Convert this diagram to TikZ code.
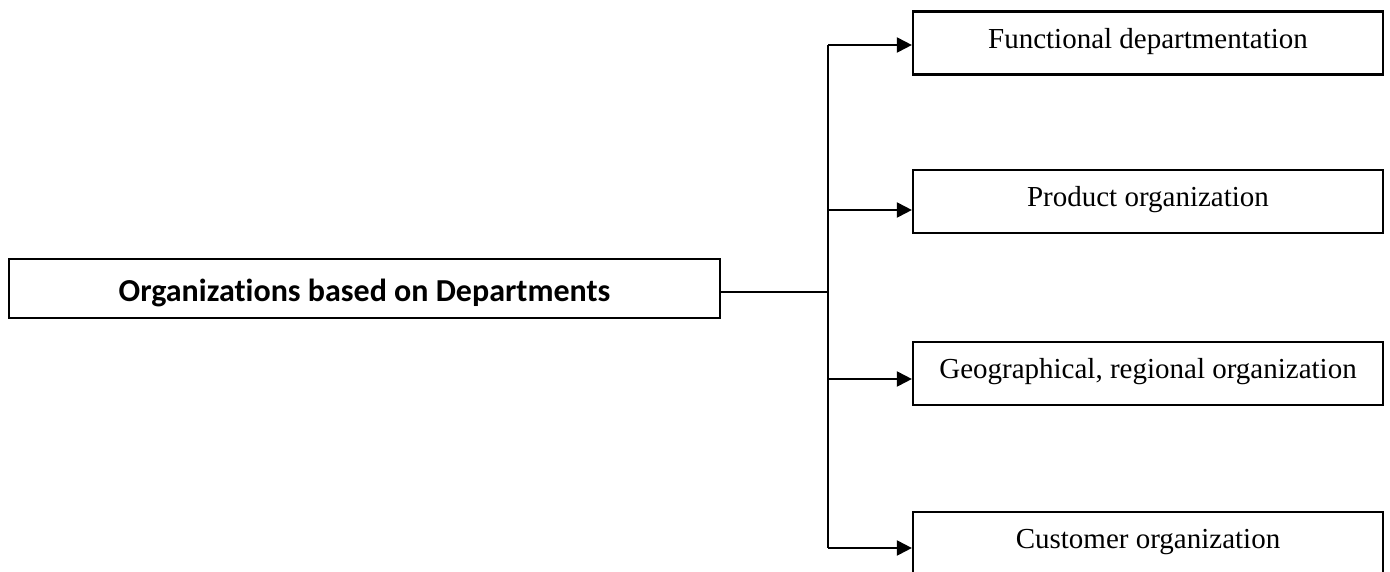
\documentclass[tikz,border=0pt]{standalone}
\usepackage{fontspec}
\setmainfont{Liberation Serif}
\newfontfamily\calibrifont[Ligatures=NoCommon]{Carlito}
\usetikzlibrary{arrows.meta}
\begin{document}
\begin{tikzpicture}[x=1pt,y=-1pt,
  box/.style={draw,line width=2.2pt,rectangle,inner sep=0pt,align=center},
  mainbox/.style={box,minimum width=711pt,minimum height=59pt,
    text height=25pt,text depth=0pt,
    font=\calibrifont\bfseries\fontsize{32}{38}\selectfont},
  subbox/.style={box,minimum width=470pt,minimum height=63pt,
    text height=17pt,text depth=7pt,
    font=\fontsize{29}{34}\selectfont},
  link/.style={line width=2pt},
  branch/.style={link,-{Triangle[length=15pt,width=15pt]}}]
\useasboundingbox (0,0) rectangle (1390,571);

% root box
\node[mainbox] (root) at (364.5,288.5) {Organizations based on Departments};

% department types
\node[subbox] (b1) at (1148,43) {Functional departmentation};
\node[subbox] (b2) at (1148,201.5) {Product organization};
\node[subbox] (b3) at (1148,373.5) {Geographical, regional organization};
\node[subbox] (b4) at (1148,543.5) {Customer organization};

% junction points on the trunk
\coordinate (hub) at (828,292);
\coordinate (j1) at (828,45);
\coordinate (j2) at (828,210);
\coordinate (j3) at (828,379);
\coordinate (j4) at (828,548);

\draw[link] (root.east |- hub) -- (hub);
\draw[link] (j1) -- (j4);
\draw[branch] (j1) -- (j1 -| b1.west);
\draw[branch] (j2) -- (j2 -| b2.west);
\draw[branch] (j3) -- (j3 -| b3.west);
\draw[branch] (j4) -- (j4 -| b4.west);
\end{tikzpicture}
\end{document}
